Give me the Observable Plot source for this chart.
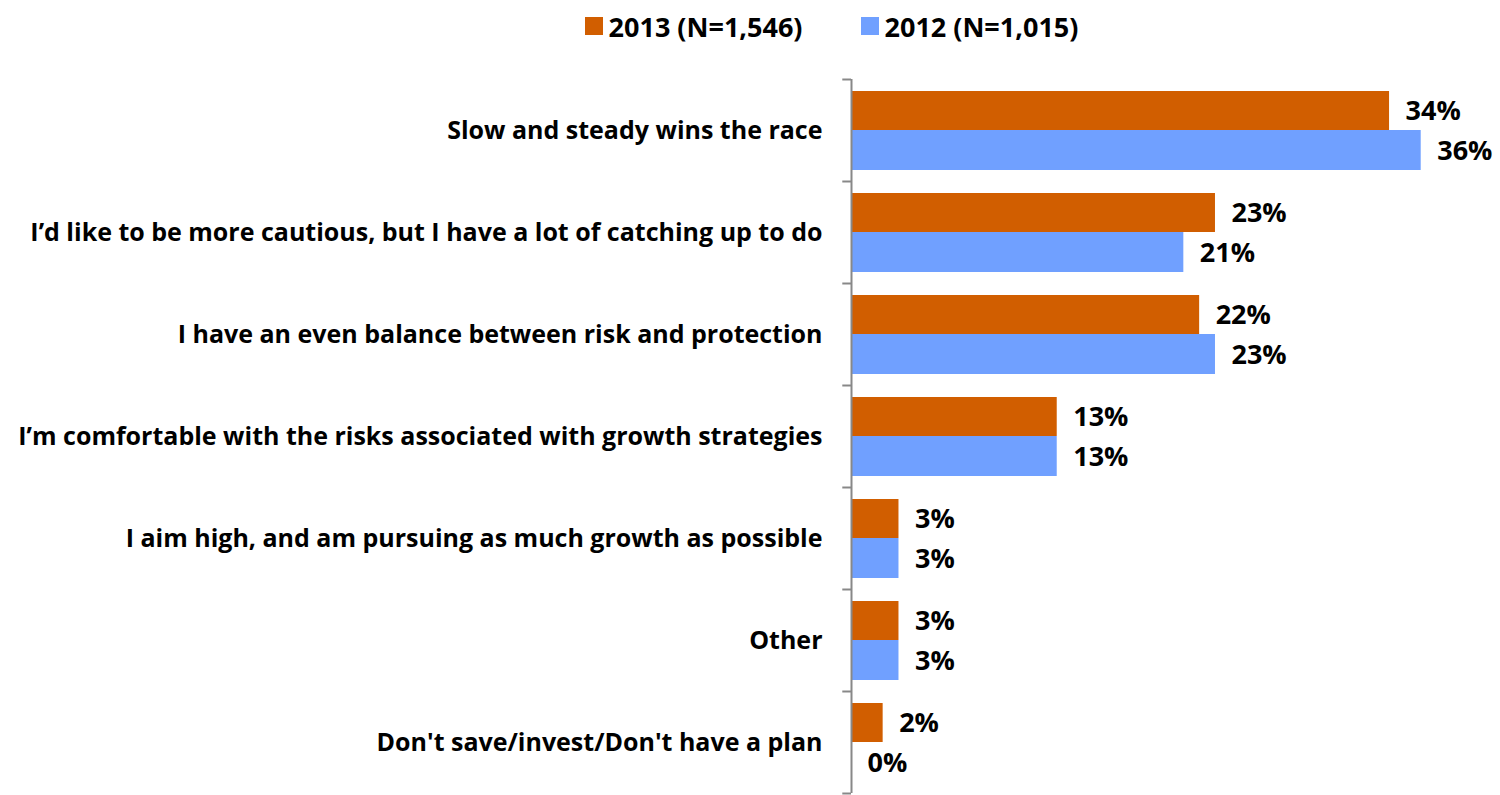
<!DOCTYPE html>
<html>
<head>
<meta charset="utf-8">
<script src="https://cdn.jsdelivr.net/npm/d3@7"></script>
<script src="https://cdn.jsdelivr.net/npm/@observablehq/plot@0.6"></script>
<style>
  html, body { margin: 0; padding: 0; background: #fff; }
  body { width: 1500px; height: 795px; overflow: hidden; font-family: "Open Sans", sans-serif; }
  #legend { height: 60px; display: flex; justify-content: center; align-items: center; gap: 58px; padding-left: 163px; padding-bottom: 8px; box-sizing: border-box; font-weight: 700; font-size: 27px; color: #000; }
  #legend .item { display: flex; align-items: center; gap: 6px; }
  #legend .sw { width: 18px; height: 18px; display: inline-block; }
</style>
</head>
<body>
<div id="legend"></div>
<div id="chart"></div>
<script>
const categories = [
  "Slow and steady wins the race",
  "I’d like to be more cautious, but I have a lot of catching up to do",
  "I have an even balance between risk and protection",
  "I’m comfortable with the risks associated with growth strategies",
  "I aim high, and am pursuing as much growth as possible",
  "Other",
  "Don't save/invest/Don't have a plan"
];
const series = ["2013 (N=1,546)", "2012 (N=1,015)"];
const values2013 = [34, 23, 22, 13, 3, 3, 2];
const values2012 = [36, 21, 23, 13, 3, 3, 0];
const colors = ["#D15E00", "#70A0FF"];

const rows2013 = categories.map((c, i) => ({category: c, value: values2013[i]}));
const rows2012 = categories.map((c, i) => ({category: c, value: values2012[i]}));

// legend
const legend = document.getElementById("legend");
series.forEach((s, i) => {
  const item = document.createElement("div");
  item.className = "item";
  const sw = document.createElement("span");
  sw.className = "sw";
  sw.style.background = colors[i];
  const t = document.createElement("span");
  t.textContent = s;
  item.appendChild(sw);
  item.appendChild(t);
  legend.appendChild(item);
});

const band = 102;
const gray = "#888888";

const chart = Plot.plot({
  width: 1500,
  height: 735,
  marginTop: 19,
  marginBottom: 2,
  marginLeft: 851,
  marginRight: 16,
  style: {fontFamily: "Open Sans, sans-serif", color: "#000", background: "#fff"},
  x: {domain: [0, 40], axis: null},
  y: {domain: categories, padding: 0, axis: null},
  marks: [
    Plot.barX(rows2013, {x: "value", y: "category", fill: colors[0], insetTop: 12, insetBottom: 51}),
    Plot.barX(rows2012, {x: "value", y: "category", fill: colors[1], insetTop: 51, insetBottom: 11}),
    Plot.ruleX([0], {stroke: gray, strokeWidth: 2}),
    Plot.ruleY(categories, {y: d => d, x1: -0.55, x2: 0, dy: -band / 2, stroke: gray, strokeWidth: 2}),
    Plot.ruleY(categories.slice(-1), {y: d => d, x1: -0.55, x2: 0, dy: band / 2, stroke: gray, strokeWidth: 2}),
    Plot.axisY({tickSize: 0, tickPadding: 29, fontSize: 25, fontWeight: 700, textAnchor: "end", label: null}),
    Plot.text(rows2013, {x: "value", y: "category", text: d => d.value + "%", textAnchor: "start", dx: 16, dy: -19, fontSize: 27, fontWeight: 700, fill: "#000"}),
    Plot.text(rows2012, {x: "value", y: "category", text: d => d.value + "%", textAnchor: "start", dx: 16, dy: 21, fontSize: 27, fontWeight: 700, fill: "#000"})
  ]
});
document.getElementById("chart").appendChild(chart);
</script>
</body>
</html>
